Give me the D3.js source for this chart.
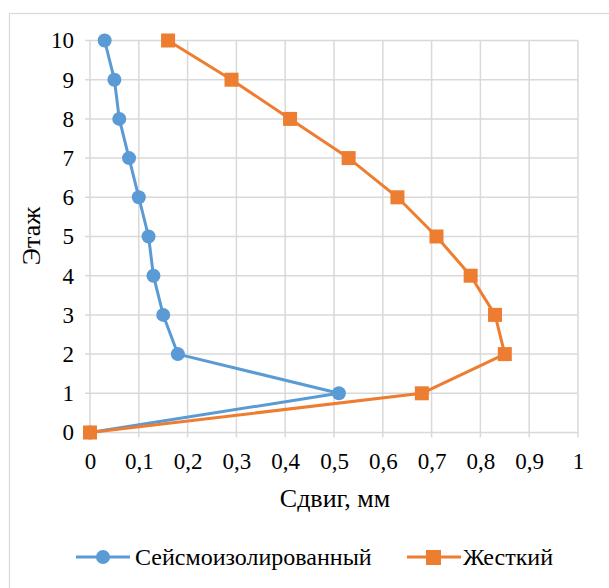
<!DOCTYPE html>
<html>
<head>
<meta charset="utf-8">
<script src="https://cdn.jsdelivr.net/npm/d3@7"></script>
<style>
  body { margin: 0; background: #fff; }
</style>
</head>
<body>
<svg id="chart" width="609" height="588"></svg>
<script>
// floors (y) and shear (x, mm)
var floors = [0, 1, 2, 3, 4, 5, 6, 7, 8, 9, 10];
var isolated = [0, 0.51, 0.18, 0.15, 0.13, 0.12, 0.10, 0.08, 0.06, 0.05, 0.03];
var rigid = [0, 0.68, 0.85, 0.83, 0.78, 0.71, 0.63, 0.53, 0.41, 0.29, 0.16];
var xTicks = [0, 0.1, 0.2, 0.3, 0.4, 0.5, 0.6, 0.7, 0.8, 0.9, 1];
var seriesNames = ["Сейсмоизолированный", "Жесткий"];

var FONT = "Liberation Serif";
var svg = d3.select("#chart");
var margin = {left: 90, right: 31, top: 40.5, bottom: 155.5};
var width = 609 - margin.left - margin.right,
    height = 588 - margin.top - margin.bottom;

// outer chart frame
svg.append("rect")
    .attr("x", 9.5).attr("y", 13.5)
    .attr("width", 620).attr("height", 600)
    .style("fill", "none")
    .style("stroke", "#d9d9d9")
    .style("stroke-width", 1.2);

var g = svg.append("g")
    .attr("transform", "translate(" + margin.left + "," + margin.top + ")");

var x = d3.scaleLinear().domain([0, 1]).range([0, width]);
var y = d3.scaleLinear().domain([0, 10]).range([height, 0]);

var fmt = function(d) { return String(+d.toFixed(1)).replace(".", ","); };

// gridlines (with small outside ticks)
g.append("g")
    .selectAll("line")
    .data(xTicks)
    .enter().append("line")
    .attr("x1", function(d) { return x(d); })
    .attr("x2", function(d) { return x(d); })
    .attr("y1", 0).attr("y2", height + 5)
    .style("stroke", "#d9d9d9").style("stroke-width", 1.5);

g.append("g")
    .selectAll("line")
    .data(floors)
    .enter().append("line")
    .attr("x1", -5).attr("x2", width)
    .attr("y1", function(d) { return y(d); })
    .attr("y2", function(d) { return y(d); })
    .style("stroke", "#d9d9d9").style("stroke-width", 1.5);

// axes: labels only, lines come from the grid
var xAxis = g.append("g")
    .attr("transform", "translate(0," + height + ")")
    .call(d3.axisBottom(x).tickValues(xTicks).tickFormat(fmt).tickSize(0).tickPadding(20));
xAxis.select(".domain").remove();
xAxis.selectAll("text").style("font-size", "23px");

var yAxis = g.append("g")
    .call(d3.axisLeft(y).tickValues(floors).tickSize(0).tickPadding(16));
yAxis.select(".domain").remove();
yAxis.selectAll("text").style("font-size", "23px");

// axis titles
svg.append("text")
    .attr("x", 335)
    .attr("y", 507)
    .attr("text-anchor", "middle")
    .style("font-size", "26px")
    .text("Сдвиг, мм");

svg.append("text")
    .attr("transform", "translate(40,236) rotate(-90)")
    .attr("text-anchor", "middle")
    .style("font-size", "26px")
    .text("Этаж");

// series
var colors = ["#5b9bd5", "#ed7d31"];
var data = [isolated, rigid].map(function(vals) {
    return vals.map(function(v, i) { return {x: v, y: floors[i]}; });
});

var line = d3.line()
    .x(function(d) { return x(d.x); })
    .y(function(d) { return y(d.y); });

data.forEach(function(s, k) {
    g.append("path")
        .datum(s)
        .attr("d", line)
        .style("fill", "none")
        .style("stroke", colors[k])
        .style("stroke-width", 3)
        .style("stroke-linejoin", "round");
});

g.append("g").selectAll("circle")
    .data(data[0])
    .enter().append("circle")
    .attr("cx", function(d) { return x(d.x); })
    .attr("cy", function(d) { return y(d.y); })
    .attr("r", 7)
    .style("fill", colors[0]);

g.append("g").selectAll("rect")
    .data(data[1])
    .enter().append("rect")
    .attr("x", function(d) { return x(d.x) - 7; })
    .attr("y", function(d) { return y(d.y) - 7; })
    .attr("width", 14).attr("height", 14)
    .style("fill", colors[1]);

// legend
var legend = [
    {name: seriesNames[0], color: colors[0], lx: 76, tx: 135, shape: "circle"},
    {name: seriesNames[1], color: colors[1], lx: 407, tx: 463, shape: "rect"}
];
var ly = 557;
legend.forEach(function(d) {
    svg.append("line")
        .attr("x1", d.lx).attr("x2", d.lx + 54)
        .attr("y1", ly).attr("y2", ly)
        .style("stroke", d.color).style("stroke-width", 3);
    if (d.shape == "circle") {
        svg.append("circle")
            .attr("cx", d.lx + 27).attr("cy", ly).attr("r", 7)
            .style("fill", d.color);
    } else {
        svg.append("rect")
            .attr("x", d.lx + 19).attr("y", ly - 7)
            .attr("width", 15).attr("height", 15)
            .style("fill", d.color);
    }
    svg.append("text")
        .attr("x", d.tx).attr("y", ly + 8)
        .style("font-size", "24px")
        .text(d.name);
});

// one font for every label
svg.selectAll("text")
    .style("font-family", FONT)
    .style("fill", "#000");
</script>
</body>
</html>
